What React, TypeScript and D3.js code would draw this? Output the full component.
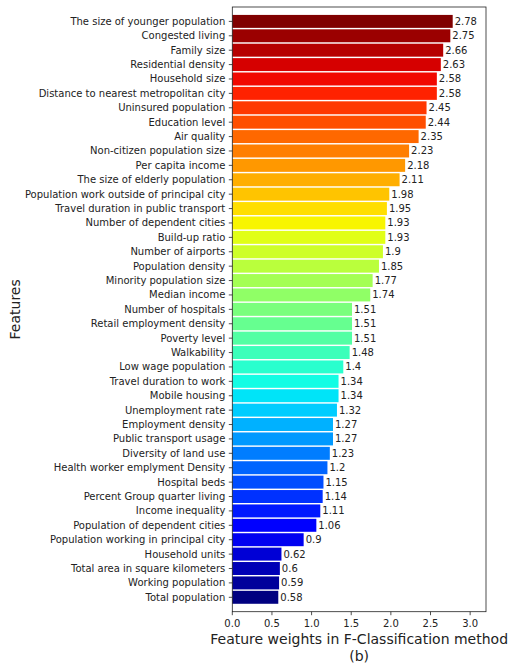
import React from "react";
import * as d3 from "d3";

const features: string[] = [
  "The size of younger population",
  "Congested living",
  "Family size",
  "Residential density",
  "Household size",
  "Distance to nearest metropolitan city",
  "Uninsured population",
  "Education level",
  "Air quality",
  "Non-citizen population size",
  "Per capita income",
  "The size of elderly population",
  "Population work outside of principal city",
  "Travel duration in public transport",
  "Number of dependent cities",
  "Build-up ratio",
  "Number of airports",
  "Population density",
  "Minority population size",
  "Median income",
  "Number of hospitals",
  "Retail employment density",
  "Poverty level",
  "Walkability",
  "Low wage population",
  "Travel duration to work",
  "Mobile housing",
  "Unemployment rate",
  "Employment density",
  "Public transport usage",
  "Diversity of land use",
  "Health worker emplyment Density",
  "Hospital beds",
  "Percent Group quarter living",
  "Income inequality",
  "Population of dependent cities",
  "Population working in principal city",
  "Household units",
  "Total area in square kilometers",
  "Working population",
  "Total population",
];

const weights: number[] = [
  2.78, 2.75, 2.66, 2.63, 2.58, 2.58, 2.45, 2.44, 2.35, 2.23, 2.18, 2.11,
  1.98, 1.95, 1.93, 1.93, 1.9, 1.85, 1.77, 1.74, 1.51, 1.51, 1.51, 1.48,
  1.4, 1.34, 1.34, 1.32, 1.27, 1.27, 1.23, 1.2, 1.15, 1.14, 1.11, 1.06,
  0.9, 0.62, 0.6, 0.59, 0.58,
];

const xTicks: number[] = [0, 0.5, 1.0, 1.5, 2.0, 2.5, 3.0];
const xLabel = "Feature weights in F-Classification method";
const subLabel = "(b)";
const yLabel = "Features";

// matplotlib "jet" colormap
const jetR: [number, number][] = [[0, 0], [0.35, 0], [0.66, 1], [0.89, 1], [1, 0.5]];
const jetG: [number, number][] = [[0, 0], [0.125, 0], [0.375, 1], [0.64, 1], [0.91, 0], [1, 0]];
const jetB: [number, number][] = [[0, 0.5], [0.11, 1], [0.34, 1], [0.65, 0], [1, 0]];
function seg(pts: [number, number][], t: number): number {
  for (let i = 1; i < pts.length; i++) {
    if (t <= pts[i][0]) {
      const [x0, y0] = pts[i - 1];
      const [x1, y1] = pts[i];
      return y0 + ((t - x0) / (x1 - x0)) * (y1 - y0);
    }
  }
  return pts[pts.length - 1][1];
}
function jet(t: number): string {
  const q = Math.floor(t * 255.999) / 255;
  return d3.rgb(seg(jetR, q) * 255, seg(jetG, q) * 255, seg(jetB, q) * 255).formatHex();
}

const W = 515;
const H = 670;
const left = 232.3;
const right = 486;
const top = 7;
const bottom = 611.7;
const FONT = "DejaVu Sans, sans-serif";

export default function App() {
  const n = features.length;
  const x = d3.scaleLinear().domain([0, 3.2]).range([left, right]);
  const y = d3.scaleLinear().domain([-1, n]).range([top, bottom]);
  const step = y(1) - y(0);
  const barH = step * 0.9;

  return (
    <svg
      width={W}
      height={H}
      style={{ position: "absolute", left: 0, top: 0, background: "#fff" }}
      fontFamily={FONT}
    >
      {features.map((f, i) => {
        const v = weights[i];
        const cy = y(i);
        const color = jet((n - 1 - i) / (n - 1));
        return (
          <g key={f}>
            <rect x={x(0)} y={cy - barH / 2} width={x(v) - x(0)} height={barH} fill={color} />
            <text x={x(v) + 2} y={cy} dy="0.35em" fontSize={10} fill="#222">
              {String(v)}
            </text>
            <line x1={left - 3.5} x2={left} y1={cy} y2={cy} stroke="#222" strokeWidth={0.8} />
            <text x={left - 7} y={cy} dy="0.35em" fontSize={10} textAnchor="end" fill="#222">
              {f}
            </text>
          </g>
        );
      })}
      {xTicks.map((t) => (
        <g key={t}>
          <line x1={x(t)} x2={x(t)} y1={bottom} y2={bottom + 3.5} stroke="#222" strokeWidth={0.8} />
          <text x={x(t)} y={bottom + 7} dy="0.8em" fontSize={10} textAnchor="middle" fill="#222">
            {t.toFixed(1)}
          </text>
        </g>
      ))}
      <rect x={left} y={top} width={right - left} height={bottom - top} fill="none" stroke="#222" strokeWidth={0.8} />
      <text x={(left + right) / 2} y={644} fontSize={14} textAnchor="middle" fill="#222">
        {xLabel}
      </text>
      <text x={(left + right) / 2} y={661} fontSize={14} textAnchor="middle" fill="#222">
        {subLabel}
      </text>
      <text
        transform={`translate(20, ${(top + bottom) / 2}) rotate(-90)`}
        fontSize={14}
        textAnchor="middle"
        fill="#222"
      >
        {yLabel}
      </text>
    </svg>
  );
}
